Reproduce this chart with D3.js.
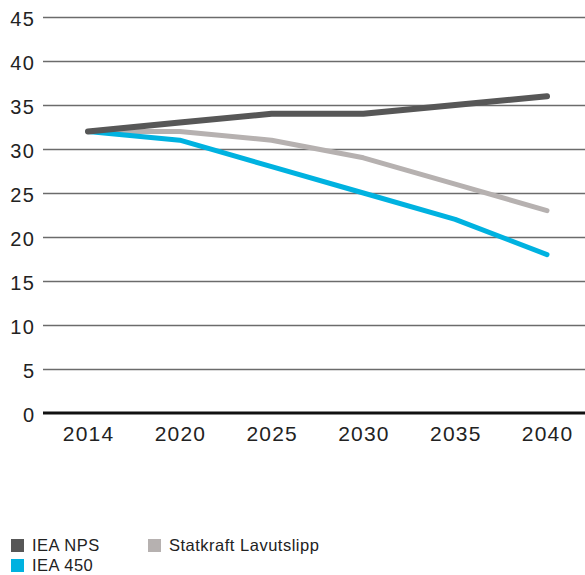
<!DOCTYPE html>
<html><head><meta charset="utf-8">
<script src="https://cdn.jsdelivr.net/npm/d3@7"></script>
<style>body{margin:0;background:#fff}svg{display:block}text{font-family:"Liberation Sans",Arial,sans-serif;fill:#222}</style>
</head><body><svg id="c" width="585" height="575"></svg>
<script>
const years = ["2014","2020","2025","2030","2035","2040"];
const ieaNPS = [32,33,34,34,35,36];
const statkraft = [32,32,31,29,26,23];
const iea450 = [32,31,28,25,22,18];
const yTicks = [0,5,10,15,20,25,30,35,40,45];
const seriesNames = ["IEA NPS","Statkraft Lavutslipp","IEA 450"];
const colors = ["#575757","#b6b1b0","#00b2e0"];

const svg = d3.select("#c");
const x = d3.scalePoint().domain(years).range([88,547]);
const y = d3.scaleLinear().domain([0,45]).range([413,17]);

// gridlines
svg.append("g").selectAll("line").data(yTicks.filter(d=>d>0)).join("line")
  .attr("x1",43).attr("x2",585).attr("y1",d=>y(d)+0.5).attr("y2",d=>y(d)+0.5)
  .attr("stroke","#6b6b6b").attr("stroke-width",1.3);
// y labels
svg.append("g").selectAll("text").data(yTicks).join("text")
  .attr("x",35.5).attr("y",d=>y(d)+9).attr("text-anchor","end")
  .attr("font-size",20).attr("letter-spacing",1.5).text(d=>d);
// x labels
svg.append("g").selectAll("text").data(years).join("text")
  .attr("x",d=>x(d)+0.6).attr("y",441).attr("text-anchor","middle")
  .attr("font-size",21).attr("letter-spacing",1.2).text(d=>d);

const line = d3.line().x((d,i)=>x(years[i])).y(d=>y(d));
const data = [ieaNPS, statkraft, iea450];
[1,2,0].forEach(k=>{
  svg.append("path").datum(data[k]).attr("d",line).attr("fill","none")
    .attr("stroke",colors[k]).attr("stroke-width",k===0?6:5)
    .attr("stroke-linecap","round").attr("stroke-linejoin","round");
});
// zero axis
svg.append("line").attr("x1",43).attr("x2",585).attr("y1",y(0)).attr("y2",y(0))
  .attr("stroke","#111").attr("stroke-width",3);

// legend
const leg = [{i:0,x:11,y:539,ty:551},{i:1,x:148,y:539,ty:551},{i:2,x:11,y:559,ty:571}];
leg.forEach(l=>{
  svg.append("rect").attr("x",l.x).attr("y",l.y).attr("width",13).attr("height",13).attr("fill",colors[l.i]);
  svg.append("text").attr("x",l.x+21).attr("y",l.ty).attr("font-size",16.5)
    .attr("letter-spacing",0.5).text(seriesNames[l.i]);
});
</script></body></html>
